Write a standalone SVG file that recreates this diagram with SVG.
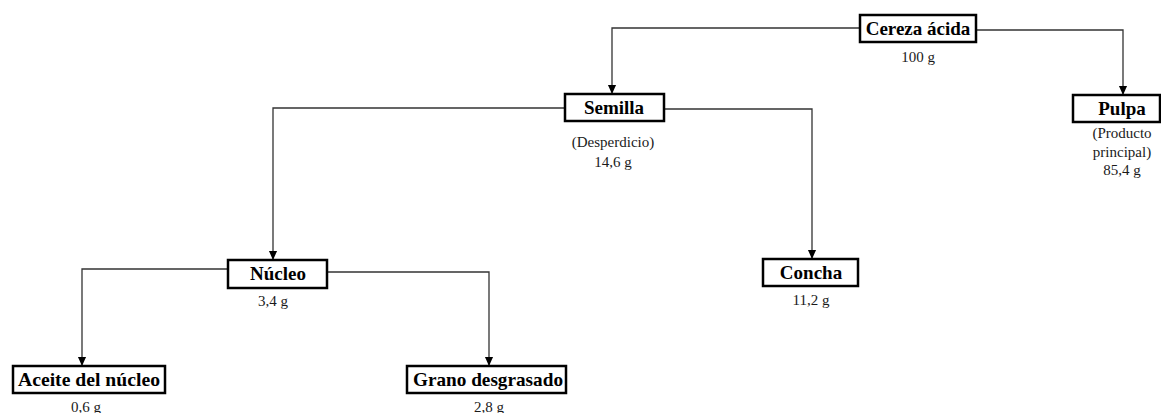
<svg xmlns="http://www.w3.org/2000/svg" width="1161" height="413" viewBox="0 0 1161 413">
  <style>
    .box { fill: #ffffff; stroke: #000000; stroke-width: 2.5; }
    .lbl { font-family: 'Liberation Serif', 'Times New Roman', serif; font-weight: bold; font-size: 19px; fill: #000000; text-anchor: middle; }
    .sub { font-family: 'Liberation Serif', 'Times New Roman', serif; font-size: 15px; fill: #1a1a1a; text-anchor: middle; }
    .edge { fill: none; stroke: #333333; stroke-width: 1.3; }
  </style>
  <defs>
    <marker id="arrowDown" markerUnits="userSpaceOnUse" markerWidth="10" markerHeight="12" refX="10" refY="5" orient="auto" viewBox="0 0 11 10">
      <path d="M0,0.5 L10,5 L0,9.5 Z" fill="#000000"/>
    </marker>
  </defs>

  <!-- connectors -->
  <g id="connectors">
    <path class="edge" d="M860,28 H612 V94" marker-end="url(#arrowDown)"/>
    <path class="edge" d="M976,30 H1123 V95" marker-end="url(#arrowDown)"/>
    <path class="edge" d="M565,108 H273 V260" marker-end="url(#arrowDown)"/>
    <path class="edge" d="M664,109 H812 V259" marker-end="url(#arrowDown)"/>
    <path class="edge" d="M228,269 H82 V366" marker-end="url(#arrowDown)"/>
    <path class="edge" d="M327,272 H489 V366" marker-end="url(#arrowDown)"/>
  </g>

  <!-- nodes -->
  <g id="cereza">
    <rect class="box" x="860" y="15" width="116" height="27"/>
    <text class="lbl" x="918" y="35">Cereza ácida</text>
    <text class="sub" x="918" y="62">100 g</text>
  </g>

  <g id="semilla">
    <rect class="box" x="565" y="94" width="99" height="27"/>
    <text class="lbl" x="614" y="114">Semilla</text>
    <text class="sub" x="613" y="147">(Desperdicio)</text>
    <text class="sub" x="613" y="167">14,6 g</text>
  </g>

  <g id="pulpa">
    <rect class="box" x="1073" y="95" width="87" height="27"/>
    <text class="lbl" x="1122" y="115">Pulpa</text>
    <text class="sub" x="1122" y="138">(Producto</text>
    <text class="sub" x="1122" y="157">principal)</text>
    <text class="sub" x="1122" y="175">85,4 g</text>
  </g>

  <g id="nucleo">
    <rect class="box" x="228" y="260" width="99" height="28"/>
    <text class="lbl" x="278" y="280">Núcleo</text>
    <text class="sub" x="273" y="306">3,4 g</text>
  </g>

  <g id="concha">
    <rect class="box" x="763" y="259" width="95" height="27"/>
    <text class="lbl" x="811" y="279">Concha</text>
    <text class="sub" x="811" y="305">11,2 g</text>
  </g>

  <g id="aceite">
    <rect class="box" x="13" y="366" width="152" height="27"/>
    <text class="lbl" x="89" y="386" textLength="142" lengthAdjust="spacingAndGlyphs">Aceite del núcleo</text>
    <text class="sub" x="86" y="412">0,6 g</text>
  </g>

  <g id="grano">
    <rect class="box" x="407" y="366" width="159" height="27"/>
    <text class="lbl" x="488" y="386" textLength="150" lengthAdjust="spacingAndGlyphs">Grano desgrasado</text>
    <text class="sub" x="489" y="412">2,8 g</text>
  </g>
</svg>
